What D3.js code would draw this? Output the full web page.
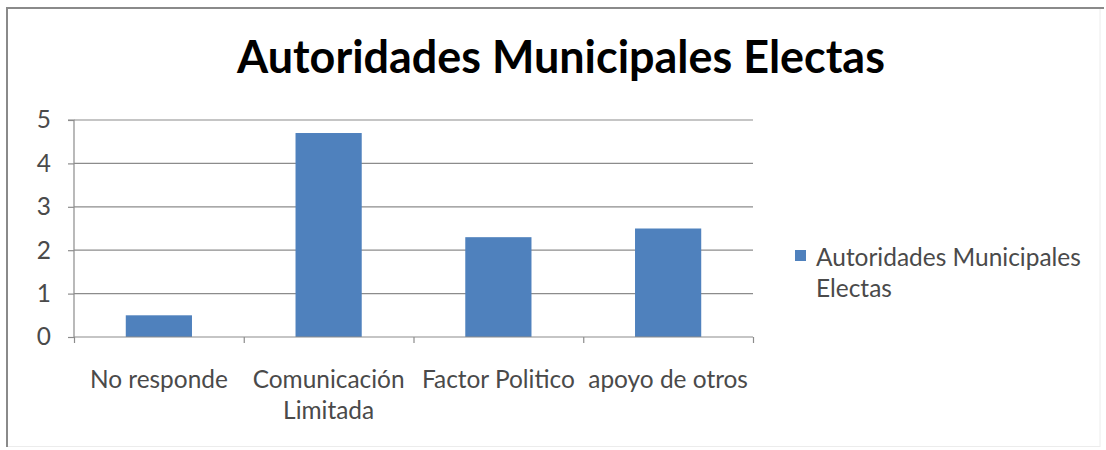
<!DOCTYPE html>
<html>
<head>
<meta charset="utf-8">
<script src="https://cdn.jsdelivr.net/npm/d3@7"></script>
<style>
  html, body { margin: 0; padding: 0; background: #fff; }
  svg { display: block; }
  text { font-family: Lato, "Open Sans", "DejaVu Sans", sans-serif; }
</style>
</head>
<body>
<svg id="chart" width="1106" height="450"></svg>
<script>
// ---- data ----
const title = "Autoridades Municipales Electas";
const seriesName = "Autoridades Municipales Electas";
const categories = ["No responde", "Comunicación Limitada", "Factor Politico", "apoyo de otros"];
const categoryLabelLines = [["No responde"], ["Comunicación", "Limitada"], ["Factor Politico"], ["apoyo de otros"]];
const values = [0.5, 4.7, 2.3, 2.5];
const yTicks = [0, 1, 2, 3, 4, 5];
const legendLines = ["Autoridades Municipales", "Electas"];

// ---- layout ----
const svg = d3.select("#chart");
const W = 1106, H = 450;
const plot = { x0: 74, x1: 753, y0: 337, y1: 120 };
const barColor = "#4F81BD";
const textColor = "#4a4a4a";
const gridColor = "#8c8c8c";

svg.append("rect").attr("width", W).attr("height", H).attr("fill", "#fff");

// frame (screenshot-like border)
svg.append("line").attr("x1", 7).attr("x2", 7).attr("y1", 8).attr("y2", 447)
  .attr("stroke", "#8a8a8a").attr("stroke-width", 2);
svg.append("line").attr("x1", 6).attr("x2", 1104).attr("y1", 8).attr("y2", 8)
  .attr("stroke", "#8a8a8a").attr("stroke-width", 2);
svg.append("line").attr("x1", 1100).attr("x2", 1100).attr("y1", 9).attr("y2", 447)
  .attr("stroke", "#ececec").attr("stroke-width", 1);
svg.append("line").attr("x1", 8).attr("x2", 1100).attr("y1", 446.5).attr("y2", 446.5)
  .attr("stroke", "#ececec").attr("stroke-width", 1);

// helper to fit font size to a target width
function fitSize(str, weight, target, base) {
  const t = svg.append("text").attr("font-size", base).attr("font-weight", weight).text(str);
  const w = t.node().getComputedTextLength();
  t.remove();
  return base * target / w;
}

// scales
const x = d3.scaleBand().domain(categories).range([plot.x0, plot.x1])
  .paddingInner(0.61).paddingOuter(0.305);
const xEdges = d3.scaleLinear().domain([0, categories.length]).range([plot.x0, plot.x1]);
const y = d3.scaleLinear().domain([0, 5]).range([plot.y0, plot.y1]);

// gridlines
svg.append("g").selectAll("line").data(yTicks.filter(d => d > 0)).join("line")
  .attr("x1", plot.x0).attr("x2", plot.x1)
  .attr("y1", d => y(d)).attr("y2", d => y(d))
  .attr("stroke", gridColor).attr("stroke-width", 1.2);

// bars
svg.append("g").selectAll("rect").data(values).join("rect")
  .attr("x", (d, i) => x(categories[i]))
  .attr("width", x.bandwidth())
  .attr("y", d => y(d))
  .attr("height", d => y(0) - y(d))
  .attr("fill", barColor);

const labelSize = fitSize("Comunicación", 400, 152, 20);

// y axis
const yAxis = svg.append("g").attr("transform", `translate(${plot.x0},0)`)
  .call(d3.axisLeft(y).tickValues(yTicks).tickSize(6).tickPadding(17).tickFormat(d3.format("d")));
yAxis.selectAll("line, path").attr("stroke", gridColor).attr("stroke-width", 1.2);
yAxis.select("path").attr("d", `M-6,${plot.y1}H0V${plot.y0}`);
yAxis.selectAll("text").attr("fill", textColor).attr("font-size", labelSize)
  .style("font-family", "Lato, 'Open Sans', sans-serif");

// x axis (boundary ticks)
const xAxis = svg.append("g").attr("transform", `translate(0,${plot.y0})`)
  .call(d3.axisBottom(xEdges).tickValues(d3.range(categories.length + 1)).tickSize(6).tickFormat(""));
xAxis.selectAll("line, path").attr("stroke", gridColor).attr("stroke-width", 1.2);
xAxis.select("path").attr("d", `M${plot.x0},0H${plot.x1}`);

// category labels
const lab = svg.append("g").selectAll("text").data(categoryLabelLines).join("text")
  .attr("text-anchor", "middle")
  .attr("fill", textColor)
  .attr("font-size", labelSize)
  .attr("transform", (d, i) => `translate(${x(categories[i]) + x.bandwidth() / 2},388)`);
lab.selectAll("tspan").data(d => d).join("tspan")
  .attr("x", 0).attr("y", (d, j) => j * 31).text(d => d);

// title
const titleSize = fitSize(title, 700, 648, 40);
svg.append("text").attr("x", 561).attr("y", 73)
  .attr("text-anchor", "middle").attr("font-weight", 700)
  .attr("font-size", titleSize).attr("fill", "#000").text(title);

// legend
const legSize = fitSize(legendLines[0], 400, 265, 20);
svg.append("rect").attr("x", 795).attr("y", 250).attr("width", 11).attr("height", 11).attr("fill", barColor);
svg.append("g").selectAll("text").data(legendLines).join("text")
  .attr("x", 816).attr("y", (d, i) => 266 + i * 31)
  .attr("font-size", legSize).attr("fill", textColor).text(d => d);
</script>
</body>
</html>
